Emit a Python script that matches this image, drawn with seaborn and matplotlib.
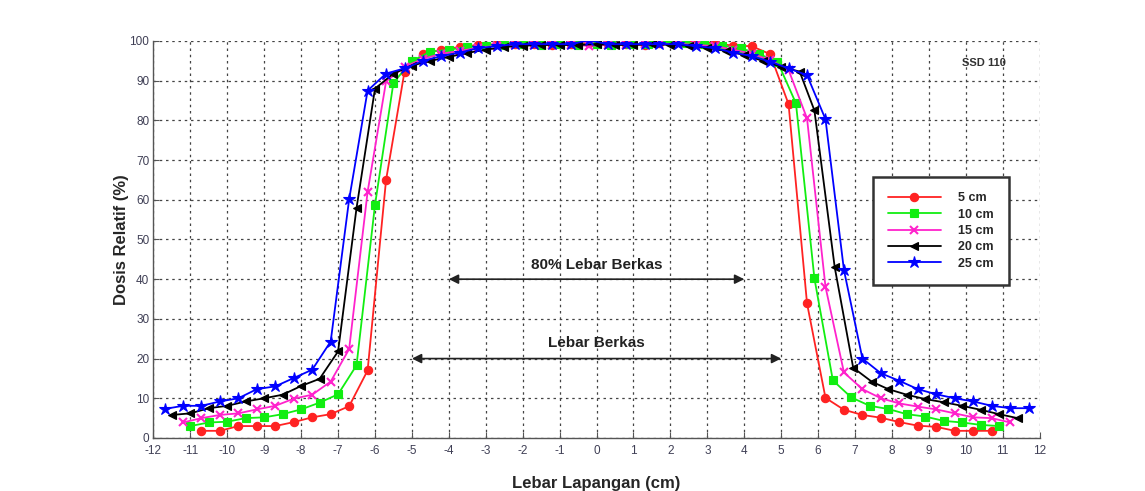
import matplotlib
matplotlib.use("Agg")
import matplotlib.pyplot as plt
import seaborn as sns
import pandas as pd

# ---- data ----
x_5cm = [-10.7,-10.2,-9.7,-9.2,-8.7,-8.2,-7.7,-7.2,-6.7,-6.2,-5.7,
         -5.2,-4.7,-4.2,-3.7,-3.2,-2.7,-2.2,-1.7,-1.2,-0.7,-0.2,
         0.3,0.8,1.3,1.7,2.2,2.7,3.2,3.7,4.2,4.7,
         5.2,5.7,6.2,6.7,7.2,7.7,8.2,8.7,9.2,9.7,10.2,10.7]
y_5cm = [1.8,1.8,3.0,3.0,3.0,4.0,5.2,6.0,8.0,17.0,65.0,
         92.3,96.7,97.8,98.5,99.0,99.2,99.3,99.3,99.0,99.2,99.5,
         99.3,99.2,99.0,99.5,100.5,99.6,99.5,98.8,98.7,96.7,
         84.1,33.9,10.1,7.1,5.8,5.1,4.0,3.1,2.8,1.8,1.8,1.8]

x_10cm = [-11,-10.5,-10,-9.5,-9,-8.5,-8,-7.5,-7,-6.5,-6,
          -5.5,-5,-4.5,-4,-3.5,-3,-2.5,-2,-1.5,-1,-0.5,
          0,0.4,0.9,1.4,1.9,2.4,2.9,3.4,3.9,4.4,4.9,
          5.4,5.9,6.4,6.9,7.4,7.9,8.4,8.9,9.4,9.9,10.4,10.9]
y_10cm = [3.0,3.9,4.1,5.0,5.2,6.0,7.2,8.9,11.0,18.3,58.7,
          89.5,95.0,97.3,97.8,98.5,98.8,99.0,99.2,99.0,99.2,99.0,
          99.3,99.0,99.2,99.3,100.6,99.5,99.3,98.8,98.2,96.7,94.8,
          84.3,40.2,14.5,10.2,8.1,7.3,6.0,5.4,4.3,3.9,3.3,3.0]

x_15cm = [-11.2,-10.7,-10.2,-9.7,-9.2,-8.7,-8.2,-7.7,-7.2,-6.7,-6.2,
          -5.7,-5.2,-4.7,-4.2,-3.7,-3.2,-2.7,-2.2,-1.7,-1.2,-0.7,-0.2,
          0.3,0.8,1.3,1.7,2.2,2.7,3.2,3.7,4.2,4.7,5.2,
          5.7,6.2,6.7,7.2,7.7,8.2,8.7,9.2,9.7,10.2,10.7,11.2]
y_15cm = [3.9,5.0,5.8,6.2,7.2,8.1,9.9,10.9,14.2,22.4,62.0,
          89.8,93.5,95.5,96.8,97.5,98.3,98.8,99.0,99.0,99.0,99.0,98.8,
          99.0,99.0,99.2,99.2,99.3,99.0,98.7,97.8,96.8,95.2,92.7,
          80.5,38.1,16.5,12.3,10.0,8.7,7.9,7.2,6.2,5.2,5.0,3.9]

x_20cm = [-11.5,-11,-10.5,-10,-9.5,-9,-8.5,-8,-7.5,-7,-6.5,-6,
          -5.5,-5,-4.5,-4,-3.5,-3,-2.5,-2,-1.5,-1,-0.5,
          0,0.5,1,1.5,2,2.5,3,3.5,4,4.5,5,5.5,
          5.9,6.45,6.95,7.45,7.9,8.4,8.9,9.4,9.9,10.4,10.9,11.4]
y_20cm = [5.8,6.2,7.5,8.1,9.2,10.0,10.9,13.1,14.9,21.8,57.9,88.0,
          91.8,93.8,95.0,96.0,97.0,97.8,98.5,98.8,99.0,99.0,99.0,
          99.2,99.0,99.0,99.2,99.0,98.8,98.3,97.5,96.5,95.0,93.5,92.3,
          82.5,43.0,17.7,14.2,12.3,10.9,9.8,9.0,8.1,7.1,6.0,5.0]

x_25cm = [-11.7,-11.2,-10.7,-10.2,-9.7,-9.2,-8.7,-8.2,-7.7,-7.2,-6.7,-6.2,-5.7,
          -5.2,-4.7,-4.2,-3.7,-3.2,-2.7,-2.2,-1.7,-1.2,-0.7,-0.2,
          0.3,0.8,1.3,1.7,2.2,2.7,3.2,3.7,4.2,4.7,5.2,5.7,
          6.2,6.7,7.2,7.7,8.2,8.7,9.2,9.7,10.2,10.7,11.2,11.7]
y_25cm = [7.3,8.1,8.1,9.2,10.0,12.3,13.0,15.1,17.2,24.3,60.1,87.5,91.8,
          93.1,95.0,96.2,97.1,98.2,98.7,99.2,99.2,99.2,99.2,100.2,
          99.2,99.2,99.2,99.2,99.2,98.7,98.2,97.1,96.2,94.8,93.1,91.4,
          80.3,42.3,20.0,16.3,14.4,12.3,11.0,10.0,9.2,8.1,7.5,7.5]

labels = ["5 cm", "10 cm", "15 cm", "20 cm", "25 cm"]
xs = [x_5cm, x_10cm, x_15cm, x_20cm, x_25cm]
ys = [y_5cm, y_10cm, y_15cm, y_20cm, y_25cm]

x_ticks = list(range(-12, 13))
y_ticks = list(range(0, 101, 10))

# ---- styles ----
colors = ["#ff2222", "#11ee11", "#ff22cc", "#000000", "#0000ff"]
markers = ["o", "s", "x", "<", "*"]
msizes = [6.0, 5.5, 6.0, 6.0, 9.0]

sns.set_style("white")
plt.rcParams["font.family"] = ["Liberation Sans", "DejaVu Sans"]
plt.rcParams["axes.unicode_minus"] = False

fig = plt.figure(figsize=(11.45, 4.91), dpi=100)
ax = fig.add_axes([0.134, 0.108, 0.774, 0.8085])

frames = []
for lab, xv, yv in zip(labels, xs, ys):
    frames.append(pd.DataFrame({"x": xv, "y": yv, "depth": lab}))
df = pd.concat(frames, ignore_index=True)

for lab, c, m, ms in zip(labels, colors, markers, msizes):
    sub = df[df["depth"] == lab]
    sns.lineplot(data=sub, x="x", y="y", ax=ax, color=c, marker=m,
                 markersize=ms, markeredgecolor=c, markerfacecolor=c,
                 markeredgewidth=1.5 if m == "x" else 0.8,
                 linewidth=1.3, sort=False, label=lab, estimator=None,
                 zorder=3)

ax.set_xlim(-12, 12)
ax.set_ylim(0, 100)
ax.set_xticks(x_ticks)
ax.set_yticks(y_ticks)
ax.grid(True, color="#444444", linestyle=(0, (2.0, 3.0)), linewidth=0.9)
ax.set_axisbelow(True)

for s in ["top", "right"]:
    ax.spines[s].set_visible(False)
for s in ["left", "bottom"]:
    ax.spines[s].set_color("#555555")
    ax.spines[s].set_linewidth(1.0)

ax.tick_params(axis="both", direction="in", length=4, width=0.8,
               colors="#555555", labelcolor="#3f3f55", labelsize=8.5,
               left=True, bottom=True)
ax.tick_params(axis="x", pad=5)
ax.tick_params(axis="y", pad=3)

ax.set_xlabel("Lebar Lapangan (cm)", fontsize=12, fontweight="bold", labelpad=14)
ax.set_ylabel("Dosis Relatif (%)", fontsize=12, fontweight="bold", labelpad=0)

# annotations
ax.annotate("", xy=(-4, 40), xytext=(4, 40),
            arrowprops=dict(arrowstyle="<|-|>", color="#222222", lw=1.2,
                            mutation_scale=14, shrinkA=0, shrinkB=0))
ax.text(0, 43.5, "80% Lebar Berkas", ha="center", va="center",
        fontsize=11, fontweight="bold", color="#222222")
ax.annotate("", xy=(-5, 20), xytext=(5, 20),
            arrowprops=dict(arrowstyle="<|-|>", color="#222222", lw=1.2,
                            mutation_scale=14, shrinkA=0, shrinkB=0))
ax.text(0, 24, "Lebar Berkas", ha="center", va="center",
        fontsize=11, fontweight="bold", color="#222222")
ax.text(10.5, 94.5, "SSD 110", ha="center", va="center",
        fontsize=8, fontweight="bold", color="#333333")

leg = ax.legend(loc="upper left", bbox_to_anchor=(0.812, 0.657),
                frameon=True, fancybox=False, handlelength=4.2,
                handletextpad=1.4, borderpad=1.2, labelspacing=0.35,
                prop={"weight": "bold", "size": 9}, borderaxespad=0)
leg.get_frame().set_edgecolor("#333333")
leg.get_frame().set_linewidth(1.8)
leg.get_frame().set_facecolor("white")
leg.get_frame().set_alpha(1.0)
leg.set_zorder(5)

fig.savefig("out.png", dpi=100)
